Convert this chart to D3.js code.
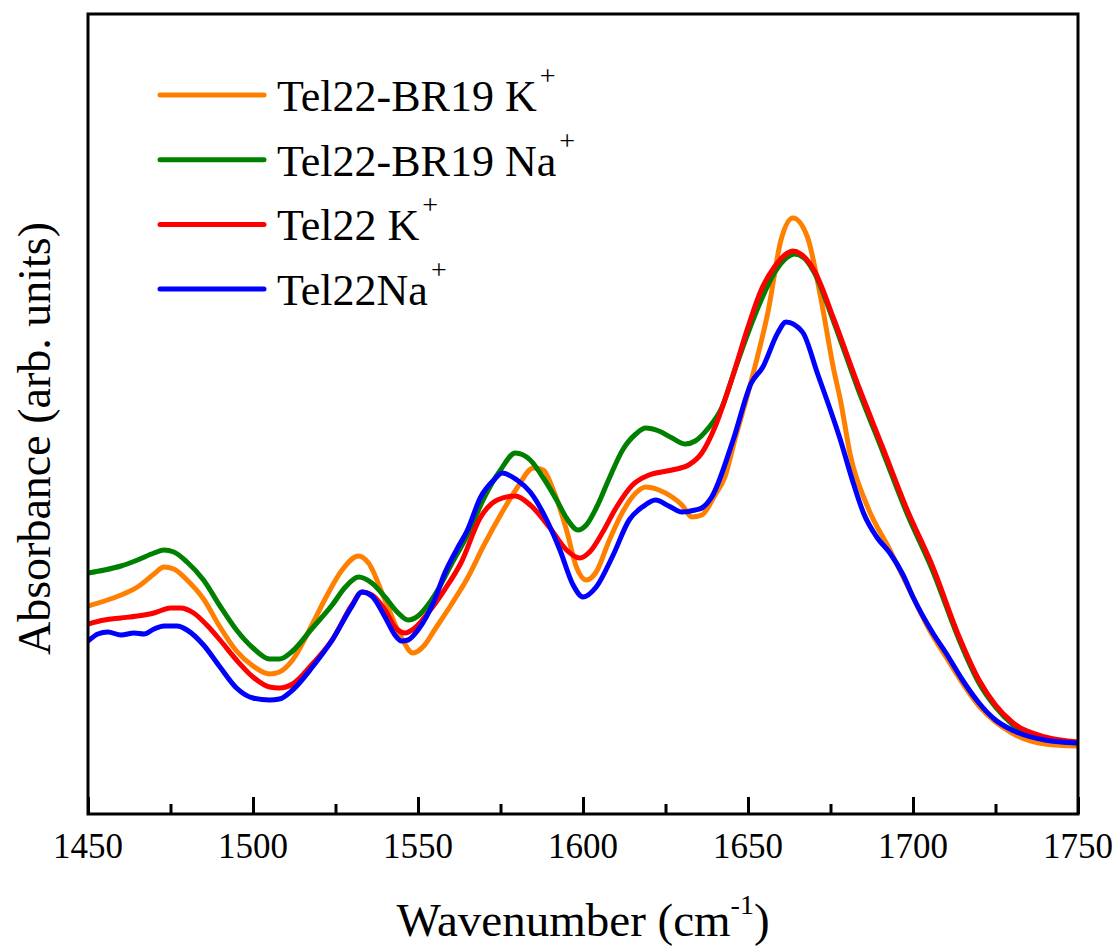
<!DOCTYPE html>
<html>
<head>
<meta charset="utf-8">
<script src="https://cdn.jsdelivr.net/npm/d3@7"></script>
</head>
<body style="margin:0">
<div id="chart"></div>
<script>
// FTIR spectra, amide I region

// [wavenumber, absorbance (arb. units)]
const br19K = [
  [1450,0.208],[1455,0.213],[1460,0.219],[1465,0.227],[1470,0.240],[1473,0.247],[1476,0.245],
  [1480,0.234],[1485,0.215],[1490,0.187],[1495,0.163],[1500,0.148],[1505,0.140],[1508,0.142],
  [1512,0.154],[1518,0.190],[1522,0.216],[1527,0.244],[1532,0.258],[1535,0.251],[1540,0.214],
  [1545,0.176],[1548.5,0.161],[1552,0.169],[1555,0.184],[1560,0.209],[1565,0.236],[1570,0.269],
  [1575,0.299],[1580,0.326],[1585,0.346],[1588,0.344],[1591,0.324],[1595,0.284],[1598,0.247],
  [1601,0.234],[1604,0.242],[1608,0.274],[1612,0.302],[1616,0.321],[1619,0.327],[1623,0.324],
  [1627,0.317],[1630,0.309],[1633,0.297],[1636,0.299],[1640,0.319],[1643,0.337],[1646,0.374],
  [1650,0.421],[1653,0.459],[1656,0.501],[1660,0.574],[1663.6,0.596],[1668,0.577],[1672,0.517],
  [1676,0.444],[1678,0.414],[1681,0.359],[1686,0.309],[1693,0.264],[1700,0.217],[1705,0.184],
  [1710,0.157],[1720,0.108],[1730,0.081],[1740,0.070],[1750,0.068]
];

const br19Na = [
  [1450,0.241],[1455,0.244],[1460,0.248],[1465,0.254],[1470,0.261],[1473,0.264],[1476,0.262],
  [1480,0.252],[1485,0.234],[1490,0.208],[1495,0.184],[1500,0.166],[1505,0.155],[1508,0.155],
  [1512,0.163],[1518,0.186],[1524,0.209],[1528,0.227],[1532,0.237],[1536,0.231],[1540,0.217],
  [1544,0.201],[1547,0.194],[1550,0.198],[1553,0.209],[1556,0.224],[1560,0.249],[1565,0.279],
  [1570,0.316],[1575,0.344],[1579.5,0.361],[1584,0.354],[1588,0.336],[1592,0.314],[1595,0.296],
  [1598.5,0.284],[1601,0.289],[1604,0.306],[1608,0.336],[1612,0.364],[1616,0.380],[1619,0.386],
  [1623,0.383],[1627,0.376],[1631,0.370],[1634,0.373],[1638,0.386],[1642,0.406],[1646,0.444],
  [1650,0.481],[1654,0.514],[1658,0.541],[1662,0.557],[1664,0.560],[1667,0.556],[1670,0.542],
  [1676,0.492],[1683,0.428],[1691,0.361],[1698,0.302],[1706,0.243],[1714,0.174],[1720,0.131],
  [1725,0.107],[1730,0.090],[1740,0.075],[1750,0.071]
];

const tel22K = [
  [1450,0.190],[1455,0.194],[1460,0.196],[1465,0.198],[1470,0.201],[1475,0.206],[1478,0.206],
  [1482,0.201],[1486,0.189],[1490,0.174],[1495,0.154],[1500,0.137],[1505,0.127],[1508,0.126],
  [1512,0.130],[1518,0.150],[1524,0.174],[1530,0.209],[1533,0.222],[1536,0.219],[1540,0.204],
  [1543,0.187],[1546,0.181],[1549,0.186],[1553,0.201],[1558,0.224],[1563,0.251],[1569,0.297],
  [1574,0.314],[1579.5,0.318],[1584,0.309],[1590,0.286],[1595,0.264],[1599,0.256],[1602,0.262],
  [1606,0.282],[1610,0.306],[1615,0.329],[1620,0.339],[1627,0.344],[1632,0.349],[1636,0.361],
  [1640,0.387],[1645,0.434],[1650,0.487],[1654,0.524],[1658,0.547],[1662,0.561],[1663.5,0.563],
  [1666,0.560],[1670,0.544],[1676,0.495],[1683,0.432],[1691,0.365],[1698,0.306],[1706,0.247],
  [1714,0.177],[1720,0.134],[1725,0.109],[1730,0.092],[1740,0.077],[1750,0.072]
];

const tel22Na = [
  [1450,0.173],[1453,0.180],[1456,0.182],[1460,0.179],[1464,0.181],[1467,0.180],[1470,0.185],
  [1473,0.188],[1477,0.188],[1480,0.184],[1485,0.169],[1490,0.147],[1495,0.126],[1500,0.116],
  [1505,0.114],[1508,0.115],[1512,0.124],[1518,0.147],[1524,0.174],[1530,0.208],[1533,0.222],
  [1536,0.218],[1540,0.197],[1543,0.179],[1545,0.173],[1547,0.174],[1550,0.184],[1555,0.214],
  [1558,0.240],[1562,0.266],[1565,0.284],[1569,0.317],[1573,0.334],[1575.5,0.341],[1580,0.334],
  [1584,0.322],[1589,0.294],[1593,0.264],[1597,0.229],[1600,0.217],[1604,0.227],[1609,0.258],
  [1614,0.294],[1618,0.307],[1622,0.314],[1626,0.308],[1630,0.302],[1634,0.304],[1636,0.306],
  [1639,0.317],[1645.5,0.374],[1651,0.431],[1654.5,0.447],[1659,0.481],[1661.5,0.492],
  [1666.5,0.482],[1671,0.441],[1678,0.374],[1682,0.330],[1685,0.301],[1689,0.277],[1693,0.261],
  [1697,0.239],[1700,0.217],[1706,0.181],[1710,0.161],[1715,0.134],[1720,0.111],[1725,0.094],
  [1730,0.084],[1740,0.074],[1750,0.071]
];

const seriesNames = ["Tel22-BR19 K", "Tel22-BR19 Na", "Tel22 K", "Tel22Na"];
const seriesData = [br19K, br19Na, tel22K, tel22Na];
const seriesColors = ["#FF8000", "#008000", "#FF0000", "#0000FF"];

const majorTicks = [1450, 1500, 1550, 1600, 1650, 1700, 1750];
const minorTicks = [1475, 1525, 1575, 1625, 1675, 1725];

const width = 1119, height = 946;
const margin = { top: 14, right: 41, bottom: 132, left: 88 };
const familyName = ["Liberation", "Serif"].join(" ");
const fontName = `"${familyName}"`;

const svg = d3.select("#chart").append("svg")
  .attr("width", width)
  .attr("height", height)
  .style("display", "block");

svg.append("rect").attr("width", width).attr("height", height).attr("fill", "#fff");

const x = d3.scaleLinear()
  .domain([1450, 1750])
  .range([margin.left, width - margin.right]);

const y = d3.scaleLinear()
  .domain([0, 0.8])
  .range([height - margin.bottom, margin.top]);

svg.append("clipPath").attr("id", "plot-clip")
  .append("rect")
  .attr("x", margin.left).attr("y", margin.top)
  .attr("width", x.range()[1] - x.range()[0])
  .attr("height", y.range()[0] - y.range()[1]);

// spectra
const line = d3.line()
  .x(d => x(d[0]))
  .y(d => y(d[1]))
  .curve(d3.curveMonotoneX);

svg.append("g")
  .attr("clip-path", "url(#plot-clip)")
  .selectAll("path")
  .data(seriesData)
  .join("path")
  .attr("fill", "none")
  .attr("stroke", (d, i) => seriesColors[i])
  .attr("stroke-width", 5)
  .attr("stroke-linejoin", "round")
  .attr("stroke-linecap", "round")
  .attr("d", line);

// frame
const x0 = x.range()[0], x1 = x.range()[1];
const yTop = y.range()[1], yBot = y.range()[0];
svg.append("rect")
  .attr("x", x0).attr("y", yTop)
  .attr("width", x1 - x0).attr("height", yBot - yTop)
  .attr("fill", "none")
  .attr("stroke", "#000")
  .attr("stroke-width", 3);

// bottom axis, ticks pointing inward, labels drawn separately
const xAxis = svg.append("g")
  .attr("transform", `translate(0,${yBot})`)
  .call(d3.axisBottom(x).tickValues(majorTicks).tickSize(-17).tickFormat(""));
xAxis.select(".domain").remove();
xAxis.selectAll(".tick line").attr("stroke-width", 3);

const xMinor = svg.append("g")
  .attr("transform", `translate(0,${yBot})`)
  .call(d3.axisBottom(x).tickValues(minorTicks).tickSize(-10).tickFormat(""));
xMinor.select(".domain").remove();
xMinor.selectAll(".tick line").attr("stroke-width", 3);

svg.selectAll(".xlabel")
  .data(majorTicks)
  .join("text")
  .attr("class", "xlabel")
  .attr("x", d => x(d))
  .attr("y", yBot + 44)
  .attr("text-anchor", "middle")
  .attr("font-size", 35)
  .style("font-family", fontName)
  .text(d => d);

// axis titles
const xTitle = svg.append("text")
  .attr("x", (x0 + x1) / 2)
  .attr("y", 936)
  .attr("text-anchor", "middle")
  .attr("font-size", 47)
  .style("font-family", fontName);
xTitle.append("tspan").text("Wavenumber (cm");
xTitle.append("tspan").attr("font-size", 28).attr("dy", -22).text("-1");
xTitle.append("tspan").attr("dy", 22).text(")");

svg.append("text")
  .attr("transform", `translate(50,${(222 + 655) / 2}) rotate(-90)`)
  .attr("text-anchor", "middle")
  .attr("font-size", 46)
  .style("font-family", fontName)
  .text("Absorbance (arb. units)");

// legend
const legend = svg.append("g")
  .selectAll("g")
  .data(seriesNames)
  .join("g")
  .attr("transform", (d, i) => `translate(160,${95 + i * 64.7})`);

legend.append("line")
  .attr("x1", 0).attr("x2", 104)
  .attr("stroke", (d, i) => seriesColors[i])
  .attr("stroke-width", 5)
  .attr("stroke-linecap", "round");

const legendText = legend.append("text")
  .attr("x", 117)
  .attr("y", 16)
  .attr("font-size", 44)
  .style("font-family", fontName);
legendText.append("tspan").text(d => d);
legendText.append("tspan")
  .attr("font-size", 28)
  .attr("dx", 3)
  .attr("dy", -26)
  .text("+");
</script>
</body>
</html>
